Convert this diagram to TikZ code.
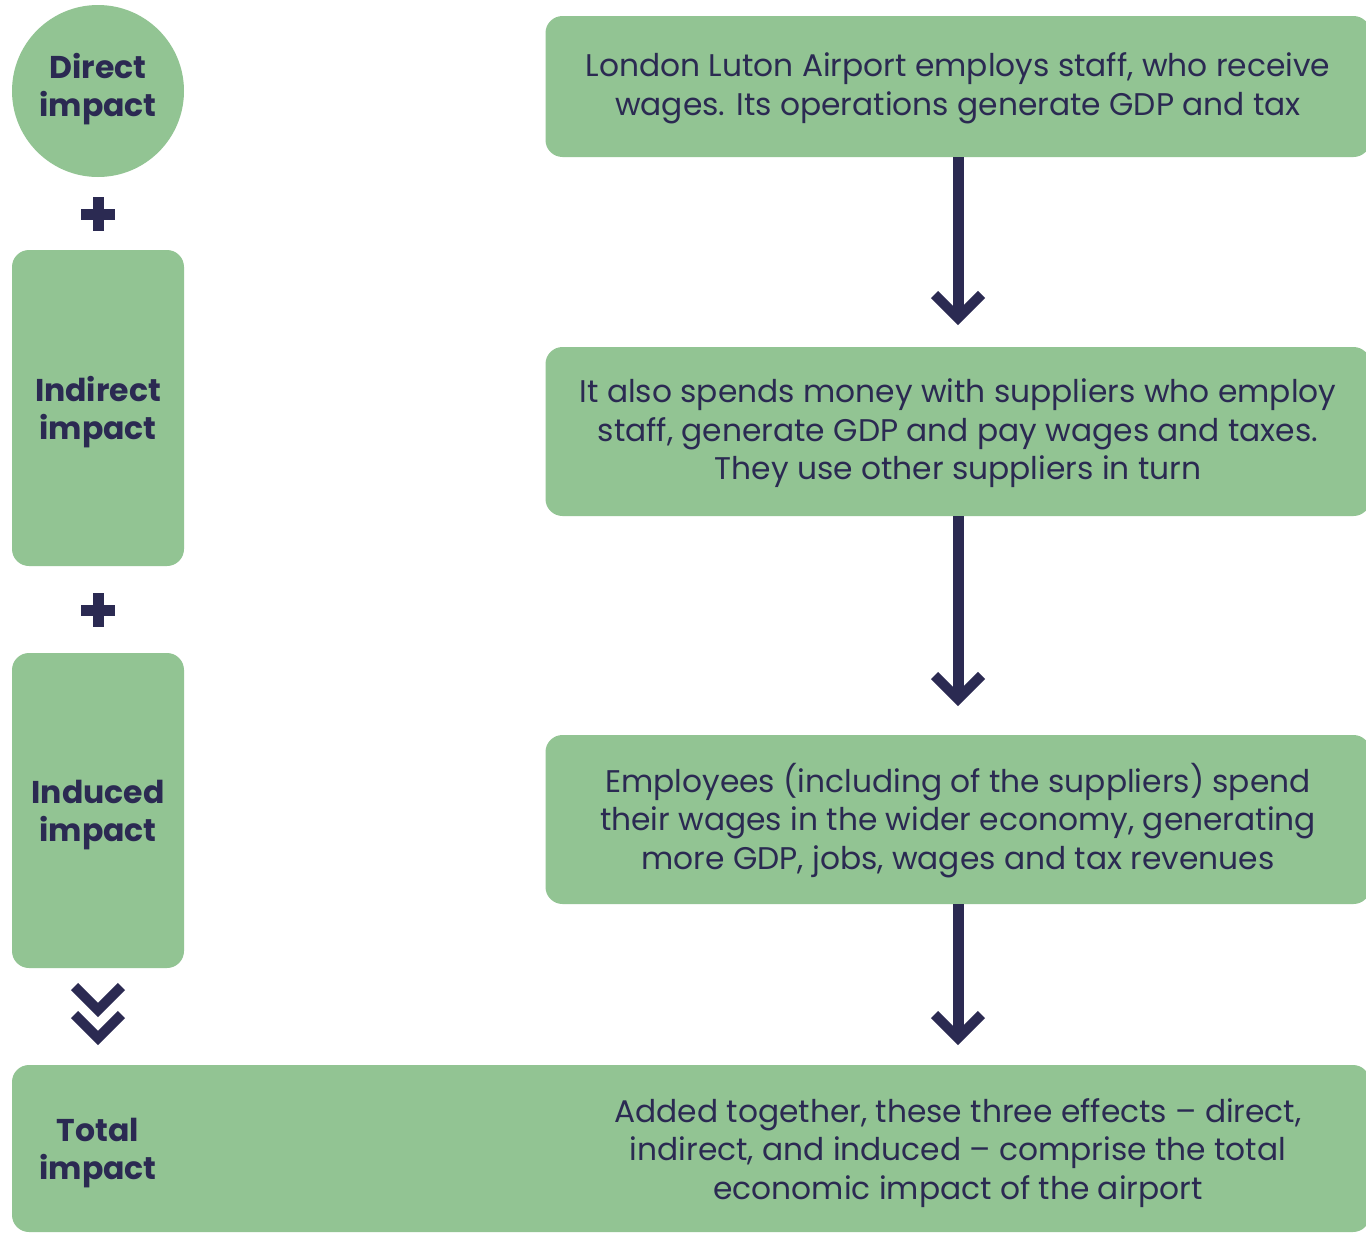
\documentclass[tikz,border=0pt]{standalone}
\usepackage{fontspec}
\setmainfont{Poppins}
\definecolor{boxgreen}{HTML}{92C493}
\definecolor{navy}{HTML}{2B2A52}
\tikzset{
  every node/.style={text=navy},
  boldfont/.style={font=\bfseries\fontsize{31.5}{38}\selectfont},
  bodyfont/.style={font=\fontsize{31.3}{38.5}\selectfont},
  circlebox/.style={circle, fill=boxgreen, minimum size=172pt, inner sep=0pt},
  leftbox/.style={rectangle, rounded corners=17pt, fill=boxgreen, minimum width=172pt, inner sep=0pt},
  rightbox/.style={rectangle, rounded corners=17pt, fill=boxgreen, minimum width=825pt, inner sep=0pt},
  boldlabel/.style 2 args={label={[boldfont, align=center, inner sep=0pt, yshift=#1]center:{#2}}},
  bodylabel/.style 2 args={label={[bodyfont, align=center, inner sep=0pt, yshift=#1]center:{#2}}},
  plaintext/.style={inner sep=0pt, align=center, bodyfont},
  boldtext/.style={inner sep=0pt, align=center, boldfont},
  shaft/.style={draw=navy, line width=11pt},
  chevron/.style={draw=navy, line width=10pt, miter limit=10, line join=miter},
  plusbar/.style={fill=navy}
}
\begin{document}
\begin{tikzpicture}[x=1pt, y=-1pt]
\clip (0,0) rectangle (1366,1234);
\fill[white] (0,0) rectangle (1366,1234);

% left column
\node[circlebox, boldlabel={2pt}{Direct\\impact}] (direct) at (98,91) {};
\node[leftbox, minimum height=316pt, boldlabel={-4pt}{Indirect\\impact}] (indirect) at (98,408) {};
\node[leftbox, minimum height=315pt, boldlabel={-5pt}{Induced\\impact}] (induced) at (98,810.5) {};

% plus signs
\fill[plusbar] (81,208.5) rectangle (115,219.5);
\fill[plusbar] (92.5,197) rectangle (103.5,231);
\fill[plusbar] (81,604.5) rectangle (115,615.5);
\fill[plusbar] (92.5,593) rectangle (103.5,627);

% double chevron
\coordinate (c1) at (98,1010);
\coordinate (c2) at (98,1038);
\draw[chevron] ([shift={(-23.5,-23.5)}]c1) -- (c1) -- ([shift={(23.5,-23.5)}]c1);
\draw[chevron] ([shift={(-23.5,-23.5)}]c2) -- (c2) -- ([shift={(23.5,-23.5)}]c2);

% right column
\node[rightbox, minimum height=141pt,
  bodylabel={-2pt}{London Luton Airport employs staff, who receive\\wages. Its operations generate GDP and tax}] (b1) at (958,86.5) {};
\node[rightbox, minimum height=169pt,
  bodylabel={-2pt}{It also spends money with suppliers who employ\\staff, generate GDP and pay wages and taxes.\\They use other suppliers in turn}] (b2) at (958,431.5) {};
\node[rightbox, minimum height=169pt,
  bodylabel={-1pt}{Employees (including of the suppliers) spend\\their wages in the wider economy, generating\\more GDP, jobs, wages and tax revenues}] (b3) at (958,819.5) {};

% total box
\node[rectangle, rounded corners=17pt, fill=boxgreen, minimum width=1358pt, minimum height=167pt,
  inner sep=0pt] (total) at (691,1148.5) {};
\node[boldtext] (totlabel) at (98,1153) {Total\\impact};
\node[plaintext] (tottext) at (958,1153)
  {Added together, these three effects -- direct,\\indirect, and induced -- comprise the total\\economic impact of the airport};

% arrows
\coordinate (t1) at (958,318);
\coordinate (t2) at (958,699);
\coordinate (t3) at (958,1038);
\draw[shaft] (b1.south) -- (t1);
\draw[chevron] ([shift={(-23.5,-23.5)}]t1) -- (t1) -- ([shift={(23.5,-23.5)}]t1);
\draw[shaft] (b2.south) -- (t2);
\draw[chevron] ([shift={(-23.5,-23.5)}]t2) -- (t2) -- ([shift={(23.5,-23.5)}]t2);
\draw[shaft] (b3.south) -- (t3);
\draw[chevron] ([shift={(-23.5,-23.5)}]t3) -- (t3) -- ([shift={(23.5,-23.5)}]t3);
\end{tikzpicture}
\end{document}
